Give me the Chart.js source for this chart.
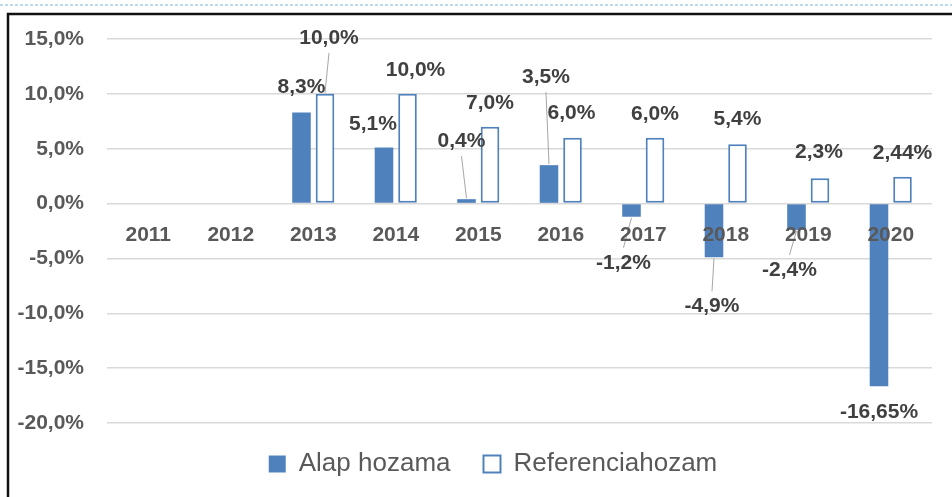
<!DOCTYPE html>
<html>
<head>
<meta charset="utf-8">
<script src="https://cdn.jsdelivr.net/npm/chart.js@4.4.0/dist/chart.umd.min.js"></script>
<style>
  html, body { margin: 0; padding: 0; background: #fff; }
  #wrap { position: relative; width: 952px; height: 497px; }
</style>
</head>
<body>
<div id="wrap"><canvas id="returnChart"></canvas></div>
<script>
const years = ['2011', '2012', '2013', '2014', '2015', '2016', '2017', '2018', '2019', '2020'];
const fundReturns = [null, null, 8.3, 5.1, 0.4, 3.5, -1.2, -4.9, -2.4, -16.65];
const benchmarkReturns = [null, null, 10.0, 10.0, 7.0, 6.0, 6.0, 5.4, 2.3, 2.44];
const yTicks = [-20, -15, -10, -5, 0, 5, 10, 15];

// where each value label sits, in px from the end of its bar (3rd item = leader line)
const fundLabelPos = [null, null, [0, -25], [-11, -23], [-5, -58, true], [-3, -88, true], [-8, 46, true], [-2, 49, true], [-7, 40, true], [0, 26]];
const benchLabelPos = [null, null, [4, -56, true], [8, -24], [0, -24], [-1, -25], [0, -24], [0, -25], [-1, -26], [0, -24]];

const blue = '#4f81bd';
Chart.defaults.font.family = '"Liberation Sans", Arial, sans-serif';

function fmt(v) {
  let s = String(Math.round(v * 100) / 100);
  if (s.indexOf('.') < 0) s += '.0';
  return s.replace('.', ',') + '%';
}

const frame = {
  id: 'frame',
  afterLayout(chart) {
    // nudge the legend to where it sits in the original
    chart.legend.left += 27;
    chart.legend.right += 27;
    chart.legend.top -= 5;
    chart.legend.bottom -= 5;
  },
  beforeDraw(chart) {
    const ctx = chart.ctx;
    ctx.save();
    ctx.fillStyle = '#fff';
    ctx.fillRect(0, 0, chart.width, chart.height);
    ctx.strokeStyle = '#b9dbec';
    ctx.lineWidth = 2;
    ctx.setLineDash([3, 2]);
    ctx.beginPath();
    ctx.moveTo(0, 5);
    ctx.lineTo(chart.width, 5);
    ctx.stroke();
    ctx.setLineDash([]);
    ctx.strokeStyle = '#111';
    ctx.lineWidth = 2.5;
    ctx.beginPath();
    ctx.moveTo(8, chart.height);
    ctx.lineTo(8, 14);
    ctx.lineTo(chart.width, 14);
    ctx.stroke();
    ctx.restore();
  }
};

const barLabels = {
  id: 'barLabels',
  afterDatasetsDraw(chart) {
    const ctx = chart.ctx;
    ctx.save();
    ctx.font = 'bold 21px "Liberation Sans", Arial, sans-serif';
    ctx.textAlign = 'center';
    ctx.textBaseline = 'middle';
    chart.data.datasets.forEach((ds, i) => {
      const pos = i === 0 ? fundLabelPos : benchLabelPos;
      chart.getDatasetMeta(i).data.forEach((bar, j) => {
        const v = ds.data[j];
        if (v === null || !pos[j]) return;
        const [dx, dy, leader] = pos[j];
        const lx = bar.x + dx;
        const ly = bar.y + dy;
        if (leader) {
          const dir = dy < 0 ? 1 : -1;
          ctx.strokeStyle = '#a6a6a6';
          ctx.lineWidth = 1;
          ctx.beginPath();
          ctx.moveTo(lx, ly + dir * 15);
          ctx.lineTo(bar.x, bar.y - dir);
          ctx.stroke();
        }
        ctx.fillStyle = '#404040';
        ctx.fillText(fmt(v), lx, ly);
      });
    });
    ctx.restore();
  }
};

const returnChart = document.getElementById('returnChart');

const returnChart_1 = new Chart(returnChart, {
  type: 'bar',
  data: {
    labels: years,
    datasets: [
      {
        label: 'Alap hozama',
        data: fundReturns,
        backgroundColor: blue,
        borderColor: blue,
        borderWidth: 0,
        categoryPercentage: 0.57,
        barPercentage: 0.79,
      },
      {
        label: 'Referenciahozam',
        data: benchmarkReturns,
        backgroundColor: '#ffffff',
        borderColor: blue,
        borderWidth: 2,
        borderSkipped: false,
        categoryPercentage: 0.57,
        barPercentage: 0.79,
      }
    ],
  },
  options: {
    responsive: true,
    maintainAspectRatio: false,
    animation: false,
    layout: {
      padding: { top: 39, right: 20, bottom: 5, left: 0 }
    },
    scales: {
      x: {
        position: { y: 0 },
        z: 1,
        grid: { display: false, drawTicks: false },
        border: { display: false },
        ticks: {
          z: 1,
          padding: 19,
          color: '#595959',
          font: { size: 21, weight: 'bold' }
        }
      },
      y: {
        min: -20,
        max: 15,
        afterBuildTicks: (scale) => { scale.ticks = yTicks.map(v => ({ value: v })); },
        afterFit: (scale) => { scale.width = 107; },
        border: { display: false },
        grid: { color: '#d9d9d9', lineWidth: 1.5, drawTicks: false },
        ticks: {
          padding: 23,
          color: '#595959',
          font: { size: 21, weight: 'bold' },
          callback: (v) => v.toFixed(1).replace('.', ',') + '%'
        }
      }
    },
    plugins: {
      tooltip: { enabled: false },
      legend: {
        position: 'bottom',
        labels: {
          boxWidth: 17,
          boxHeight: 17,
          padding: 33,
          color: '#595959',
          font: { size: 26 }
        }
      }
    }
  },
  plugins: [frame, barLabels]
});
</script>
</body>
</html>
